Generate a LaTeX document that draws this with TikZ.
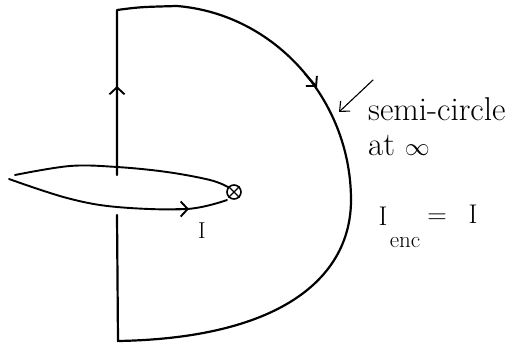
\documentclass[tikz,border=0pt]{standalone}
\usetikzlibrary{arrows.meta}
\begin{document}
\begin{tikzpicture}[x=1pt,y=-1pt,
  curve/.style={line width=2.2pt, line cap=round, line join=round},
  slit/.style={line width=1.9pt, line cap=round, line join=round},
  barb/.style={line width=1.9pt, line cap=round, -{Straight Barb[length=7pt,width=15pt]}},
  lbl/.style={inner sep=0pt, anchor=base west, font=\fontsize{33}{35}\selectfont},
  big/.style={inner sep=0pt, anchor=base, font=\fontsize{27}{29}\selectfont}]
\useasboundingbox (0,0) rectangle (515,346);
% contour
\coordinate (tl) at (117,10);
\coordinate (tr) at (177,6);
\coordinate (rm) at (351,200);
\coordinate (bl) at (118,341);
\coordinate (gapT) at (117,175);
\coordinate (gapB) at (117,215);
\draw[curve] (gapT) -- (tl) .. controls (140,7) .. (tr)
  .. controls (275,14) and (351,100) .. (rm)
  .. controls (351,275) and (285,338) .. (bl) -- (gapB);
% slit
\node[circle, draw, line width=1.6pt, minimum size=14pt, inner sep=0pt] (src) at (234,192) {};
\draw[line width=1.4pt] (src.45) -- (src.225) (src.135) -- (src.315);
\draw[slit] plot[smooth,tension=0.6] coordinates {(15,175) (70,166) (117,167) (167,172) (210,180) (228,187)};
\draw[slit] plot[smooth,tension=0.6] coordinates {(9,179) (67,198) (117,207) (187,209) (227,200)};
% arrows on the contour
\coordinate (a1s) at (117,100); \coordinate (a1e) at (117,86);
\draw[barb] (a1s) -- (a1e);
\coordinate (a2s) at (176,209); \coordinate (a2e) at (189,209);
\draw[barb] (a2s) -- (a2e);
\coordinate (a3s) at (305,74); \coordinate (a3e) at (317,87);
\draw[barb] (a3s) -- (a3e);
% pointer
\coordinate (ps) at (373,80); \coordinate (pe) at (339,112);
\draw[line width=1.1pt, line cap=round, -{Straight Barb[length=8pt,width=14pt]}] (ps) -- (pe);
% labels
\node[lbl] (semi) at (368,120) {semi-circle};
\node[lbl] (atinf) at (368,155) {at $\infty$};
\node[inner sep=0pt, anchor=base, font=\fontsize{23}{25}\selectfont] (Islit) at (202,238) {I};
\node[big] (Ienc) at (383,225) {I};
\node[inner sep=0pt, anchor=base, font=\fontsize{23}{25}\selectfont] (enc) at (405,247) {enc};
\node[big] (eq) at (437,223) {=};
\node[big] (Iright) at (473,223) {I};
\end{tikzpicture}
\end{document}
